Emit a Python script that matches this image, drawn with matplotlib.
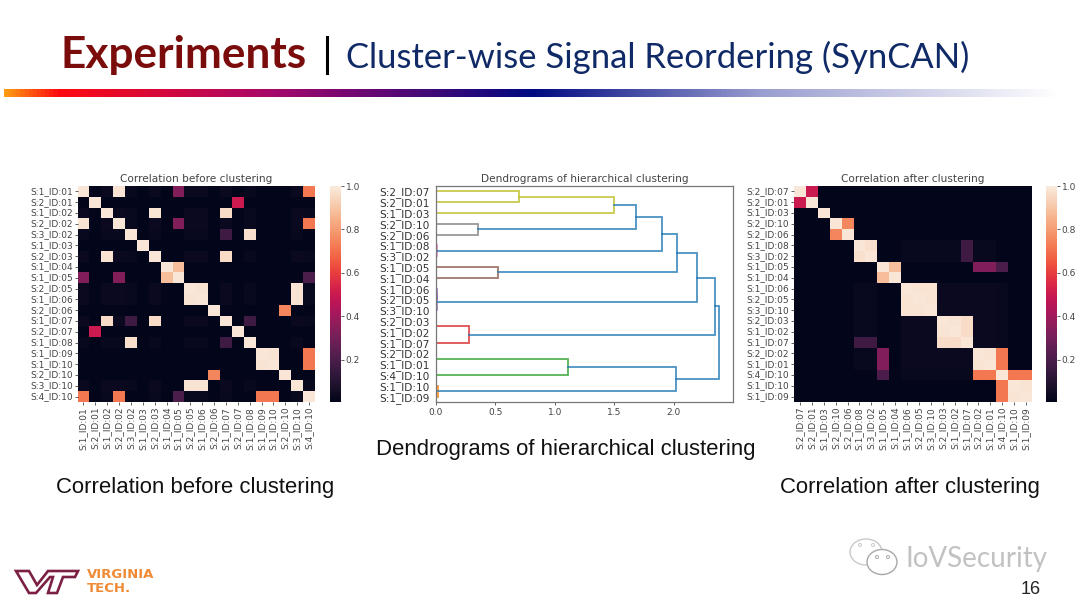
import numpy as np
import matplotlib
matplotlib.use("Agg")
import matplotlib.pyplot as plt
from matplotlib.colors import LinearSegmentedColormap
from matplotlib.patches import Ellipse, Polygon
import seaborn as sns

W, H = 1080, 608

signals_before = ["S:1_ID:01", "S:2_ID:01", "S:1_ID:02", "S:2_ID:02", "S:3_ID:02",
                  "S:1_ID:03", "S:2_ID:03", "S:1_ID:04", "S:1_ID:05", "S:2_ID:05",
                  "S:1_ID:06", "S:2_ID:06", "S:1_ID:07", "S:2_ID:07", "S:1_ID:08",
                  "S:1_ID:09", "S:1_ID:10", "S:2_ID:10", "S:3_ID:10", "S:4_ID:10"]
signals_after = ["S:2_ID:07", "S:2_ID:01", "S:1_ID:03", "S:2_ID:10", "S:2_ID:06",
                 "S:1_ID:08", "S:3_ID:02", "S:1_ID:05", "S:1_ID:04", "S:1_ID:06",
                 "S:2_ID:05", "S:3_ID:10", "S:2_ID:03", "S:1_ID:02", "S:1_ID:07",
                 "S:2_ID:02", "S:1_ID:01", "S:4_ID:10", "S:1_ID:10", "S:1_ID:09"]

strong_pairs = [("S:2_ID:07", "S:2_ID:01", 0.50), ("S:2_ID:10", "S:2_ID:06", 0.75),
                ("S:1_ID:08", "S:3_ID:02", 0.97), ("S:1_ID:05", "S:1_ID:04", 0.88),
                ("S:1_ID:06", "S:2_ID:05", 0.98), ("S:1_ID:06", "S:3_ID:10", 0.98),
                ("S:2_ID:05", "S:3_ID:10", 0.98), ("S:2_ID:03", "S:1_ID:02", 0.98),
                ("S:2_ID:03", "S:1_ID:07", 0.96), ("S:1_ID:02", "S:1_ID:07", 0.96),
                ("S:2_ID:02", "S:1_ID:01", 0.98), ("S:2_ID:02", "S:4_ID:10", 0.72),
                ("S:1_ID:01", "S:4_ID:10", 0.72), ("S:1_ID:10", "S:4_ID:10", 0.72),
                ("S:1_ID:09", "S:4_ID:10", 0.72), ("S:1_ID:09", "S:1_ID:10", 0.98),
                ("S:1_ID:05", "S:2_ID:02", 0.33), ("S:1_ID:05", "S:1_ID:01", 0.33),
                ("S:1_ID:05", "S:4_ID:10", 0.20), ("S:1_ID:07", "S:1_ID:08", 0.17),
                ("S:1_ID:07", "S:3_ID:02", 0.17)]
weak_signals = ["S:1_ID:01", "S:2_ID:02", "S:1_ID:02", "S:2_ID:03", "S:1_ID:07",
                "S:2_ID:05", "S:1_ID:06", "S:3_ID:10"]
faint_signals = ["S:3_ID:02", "S:1_ID:08", "S:4_ID:10"]
weak_value, faint_value, base_value, diag_value = 0.036, 0.026, 0.008, 0.985

# left child, right child, height, colour; children below 20 are leaves (top to
# bottom), 20 and up refer to earlier links in this list
dendro_links = [(0, 1, 0.70, "C8"), (20, 2, 1.50, "C8"), (3, 4, 0.355, "C7"),
                (21, 22, 1.68, "C0"), (5, 6, 0.006, "C6"), (23, 24, 1.90, "C0"),
                (7, 8, 0.525, "C5"), (25, 26, 2.03, "C0"), (9, 10, 0.006, "C4"),
                (28, 11, 0.01, "C4"), (27, 29, 2.195, "C0"), (12, 13, 0.003, "C3"),
                (31, 14, 0.275, "C3"), (30, 32, 2.345, "C0"), (15, 16, 0.004, "C2"),
                (34, 17, 1.11, "C2"), (18, 19, 0.02, "C1"), (35, 36, 2.02, "C0"),
                (33, 37, 2.38, "C0")]

captions = ["Dendrograms of hierarchical clustering", "Correlation before clustering",
            "Correlation after clustering"]


def build_matrix(order):
    idx = {s: i for i, s in enumerate(order)}
    m = np.full((len(order), len(order)), base_value)
    def put(a, b, v):
        m[idx[a], idx[b]] = v
        m[idx[b], idx[a]] = v
    for a in weak_signals:
        for b in weak_signals:
            put(a, b, weak_value)
    for a in faint_signals:
        for b in weak_signals:
            put(a, b, faint_value)
    for a, b, v in strong_pairs:
        put(a, b, v)
    np.fill_diagonal(m, diag_value)
    return m


def px_axes(fig, x0, y0, x1, y1):
    return fig.add_axes([x0 / W, 1 - y1 / H, (x1 - x0) / W, (y1 - y0) / H])


def draw_heatmap(fig, order, title, box, cbar_box):
    ax = px_axes(fig, *box)
    cax = px_axes(fig, *cbar_box)
    sns.heatmap(build_matrix(order), ax=ax, cbar_ax=cax, vmin=0.005, vmax=1.0,
                xticklabels=order, yticklabels=order, cmap="rocket")
    ax.set_title(title, fontsize=7.6, color="#444444", pad=3)
    ax.tick_params(axis="both", labelsize=6.5, length=2, width=0.6, pad=1.5,
                   colors="#444444")
    ax.set_xticklabels(order, rotation=90)
    ax.set_yticklabels(order, rotation=0)
    cax.set_yticks([0.2, 0.4, 0.6, 0.8, 1.0])
    cax.tick_params(labelsize=6.5, length=2, width=0.6, pad=1.5, colors="#444444")
    for s in cax.spines.values():
        s.set_visible(False)


def draw_dendrogram(fig, box):
    ax = px_axes(fig, *box)
    pos = {i: (5 + 10 * i, 0.0) for i in range(20)}
    for k, (a, b, h, col) in enumerate(dendro_links):
        ya, xa = pos[a]
        yb, xb = pos[b]
        ax.plot([xa, h, h, xb], [ya, ya, yb, yb], color=col, lw=1.3, alpha=0.8,
                solid_joinstyle="miter")
        pos[20 + k] = ((ya + yb) / 2, h)
    ax.set_xlim(0, 2.5)
    ax.set_ylim(200, 0)
    ax.set_yticks([5 + 10 * i for i in range(20)])
    ax.set_yticklabels(signals_after, fontsize=7.6, color="#333333")
    ax.set_xticks([0, 0.5, 1.0, 1.5, 2.0])
    ax.tick_params(axis="x", labelsize=6.5, length=2, width=0.6, pad=2, colors="#444444")
    ax.tick_params(axis="y", length=0, pad=4.5)
    ax.set_title("Dendrograms of hierarchical clustering", fontsize=7.6,
                 color="#444444", pad=3)
    for s in ax.spines.values():
        s.set_color("#777777")
        s.set_linewidth(0.9)


def draw_decor(fig):
    ax = fig.add_axes([0, 0, 1, 1], zorder=-1)
    ax.axis("off")

    ax.text(60, 55, "Experiments", family="Lato", weight="bold", fontsize=31.8,
            color="#7b0c0c", va="center", ha="left")
    ax.plot([327, 327], [37, 73], color="black", lw=2.2)
    ax.text(346, 57, "Cluster-wise Signal Reordering (SynCAN)", family="Lato",
            fontsize=24.9, color="#0f2a66", va="center", ha="left")

    cmap = LinearSegmentedColormap.from_list(
        "rule", [(0, "#ff9a10"), (0.05, "#ff0a10"), (0.25, "#a8086a"),
                 (0.5, "#000a80"), (0.72, "#9a9ed0"), (1, "#ffffff")])
    ax.imshow(np.linspace(0, 1, 512).reshape(1, -1), cmap=cmap, aspect="auto",
              extent=[4, 1060, 97, 89])
    ax.set_xlim(0, W)
    ax.set_ylim(H, 0)

    ax.text(566, 449, captions[0], family="Liberation Sans", fontsize=15.9,
            color="#111111", ha="center", va="center")
    ax.text(195.5, 487, captions[1], family="Liberation Sans", fontsize=15.9,
            color="#111111", ha="center", va="center")
    ax.text(910, 487, captions[2], family="Liberation Sans", fontsize=15.9,
            color="#111111", ha="center", va="center")

    # Virginia Tech logo
    ax.add_patch(Polygon([(16, 571), (29, 571), (37, 585), (48, 571), (78, 571),
                          (75, 577), (63, 577), (57, 593), (48, 593), (53, 577),
                          (50, 577), (36, 593), (29, 593)],
                         closed=True, fill=False, ec="#7b1f45", lw=1.9))
    ax.text(87, 575, "VIRGINIA", family="DejaVu Sans", weight="bold", fontsize=9.5,
            color="#f08a35", va="center")
    ax.text(87, 588, "TECH.", family="DejaVu Sans", weight="bold", fontsize=9.5,
            color="#f08a35", va="center")

    # watermark
    ax.add_patch(Ellipse((866, 552), 32, 26, fill=False, ec="#c8c8c8", lw=1))
    ax.add_patch(Ellipse((882, 562), 30, 25, fc="white", ec="#a8a8a8", lw=1, zorder=3))
    for x, y, c in [(860, 545, "#c8c8c8"), (873, 545, "#c8c8c8"),
                    (877, 557, "#a8a8a8"), (888, 557, "#a8a8a8")]:
        ax.add_patch(Ellipse((x, y), 3, 3, fill=False, ec=c, lw=0.7, zorder=4))
    ax.text(905, 559, "IoVSecurity", family="Lato", fontsize=20,
            color="#c2c2c2", va="center", ha="left")
    ax.text(1031, 589, "16", family="Liberation Sans", fontsize=13, color="#222222",
            ha="center", va="center")


def main():
    fig = plt.figure(figsize=(W / 100, H / 100), dpi=100, facecolor="white")
    draw_decor(fig)
    draw_heatmap(fig, signals_before, "Correlation before clustering",
                 (77.5, 186, 315, 402), (330, 186, 341, 402))
    draw_dendrogram(fig, (436, 186, 733, 402))
    draw_heatmap(fig, signals_after, "Correlation after clustering",
                 (794, 186, 1032, 402), (1046, 186, 1057, 402))
    fig.savefig("out.png", dpi=100)


if __name__ == "__main__":
    main()
